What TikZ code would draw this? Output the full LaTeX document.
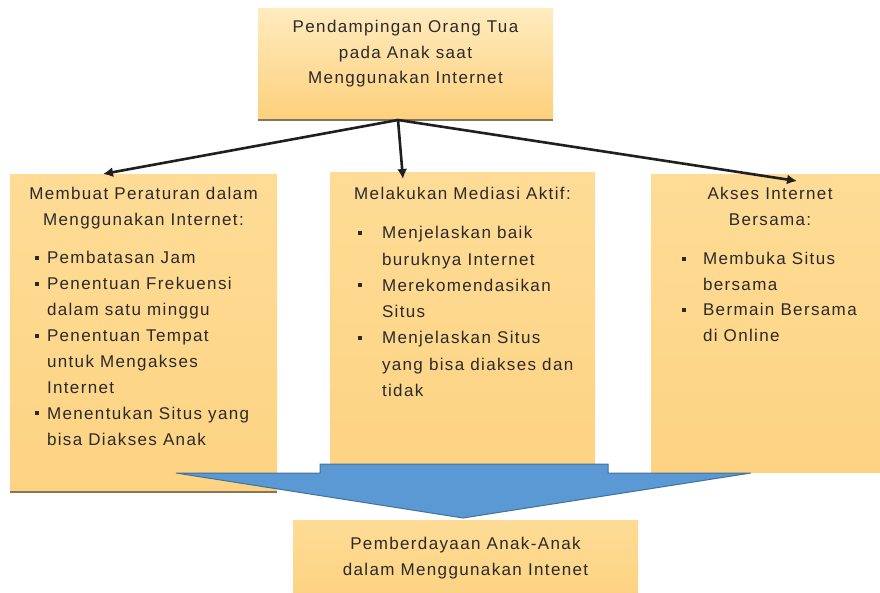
\documentclass[tikz,border=0pt]{standalone}
\usepackage{fontspec}
\setmainfont{Liberation Sans}[LetterSpace=8]
\usetikzlibrary{arrows.meta}
\definecolor{boxtop}{HTML}{FEDC96}
\definecolor{boxbot}{HTML}{FDD383}
\definecolor{headtop}{HTML}{FFEBBE}
\definecolor{headbot}{HTML}{FDD07C}
\definecolor{textgray}{HTML}{2A2A2A}
\definecolor{flowfill}{HTML}{5A99D3}
\definecolor{flowedge}{HTML}{41719C}
\definecolor{rim}{HTML}{85765A}

% small square bullet
\newcommand{\sq}{\rule[4pt]{4pt}{4pt}}
% boxed text block: height, width, contents
\newcommand{\blk}[3]{\begin{minipage}[t][#1pt][t]{#2pt}#3\end{minipage}}

\begin{document}
\begin{tikzpicture}[x=1pt, y=-1pt,
  box/.style={anchor=north west, inner sep=0pt, outer sep=0pt, shade,
    top color=boxtop, bottom color=boxbot, text=textgray,
    font=\fontsize{17}{25.5}\selectfont},
  headbox/.style={box, top color=headtop, bottom color=headbot},
  link/.style={-{Latex[length=10pt, width=10pt]}, line width=2.6pt, draw=black!88},
  rimline/.style={draw=rim, line width=1.6pt}]
  \useasboundingbox (0,0) rectangle (880,593);

  % Top box
  \node[headbox] (top) at (258,9) {\blk{111}{295}{\vspace*{11.6pt}\centering
    Pendampingan Orang Tua\\pada Anak saat\\Menggunakan Internet\par}};
  \draw[rimline] (top.south west) -- (top.south east);

  % Three branches
  \node[box] (rules) at (10,175) {\blk{317}{267}{\vspace*{12.6pt}
    {\centering Membuat Peraturan dalam\\Menggunakan Internet:\par}
    \vspace{12.5pt}\raggedright\baselineskip=25.9pt
    \hspace*{25pt}\makebox[12pt][l]{\sq}Pembatasan Jam\\
    \hspace*{25pt}\makebox[12pt][l]{\sq}Penentuan Frekuensi\\
    \hspace*{37pt}dalam satu minggu\\
    \hspace*{25pt}\makebox[12pt][l]{\sq}Penentuan Tempat\\
    \hspace*{37pt}untuk Mengakses\\
    \hspace*{37pt}Internet\\
    \hspace*{25pt}\makebox[12pt][l]{\sq}Menentukan Situs yang\\
    \hspace*{37pt}bisa Diakses Anak\par}};
  \draw[rimline] (rules.south west) -- (rules.south east);

  \node[box] (mediasi) at (330,173) {\blk{297}{265}{\vspace*{14.6pt}
    {\centering Melakukan Mediasi Aktif:\par}
    \vspace{12.5pt}\raggedright\baselineskip=26.3pt
    \hspace*{28pt}\makebox[24pt][l]{\sq}Menjelaskan baik\\
    \hspace*{52pt}buruknya Internet\\
    \hspace*{28pt}\makebox[24pt][l]{\sq}Merekomendasikan\\
    \hspace*{52pt}Situs\\
    \hspace*{28pt}\makebox[24pt][l]{\sq}Menjelaskan Situs\\
    \hspace*{52pt}yang bisa diakses dan\\
    \hspace*{52pt}tidak\par}};

  \node[box] (akses) at (651,175) {\blk{297}{229}{\vspace*{12.6pt}
    {\centering\hspace*{9pt}Akses Internet\\\hspace*{9pt}Bersama:\par}
    \vspace{14pt}\raggedright
    \hspace*{31pt}\makebox[21pt][l]{\sq}Membuka Situs\\
    \hspace*{52pt}bersama\\
    \hspace*{31pt}\makebox[21pt][l]{\sq}Bermain Bersama\\
    \hspace*{52pt}di Online\par}};

  % Connectors
  \draw[link] ([xshift=-7.5pt]top.south) -- ([xshift=-40.5pt, yshift=1pt]rules.north);
  \draw[link] ([xshift=-7.5pt]top.south) -- ([xshift=-59.5pt, yshift=-6pt]mediasi.north);
  \draw[link] ([xshift=-7.5pt]top.south) -- ([xshift=31.5pt, yshift=-6pt]akses.north);

  % Big block arrow
  \filldraw[fill=flowfill, draw=flowedge, line width=1pt]
    (320,464) -- (608,464) -- (608,473) -- (751,473) -- (463,518)
    -- (176,473) -- (320,473) -- cycle;

  % Result box
  \node[box] (hasil) at (293,520) {\blk{73}{345}{\vspace*{17.6pt}\centering
    Pemberdayaan Anak-Anak\\dalam Menggunakan Intenet\par}};
\end{tikzpicture}
\end{document}
